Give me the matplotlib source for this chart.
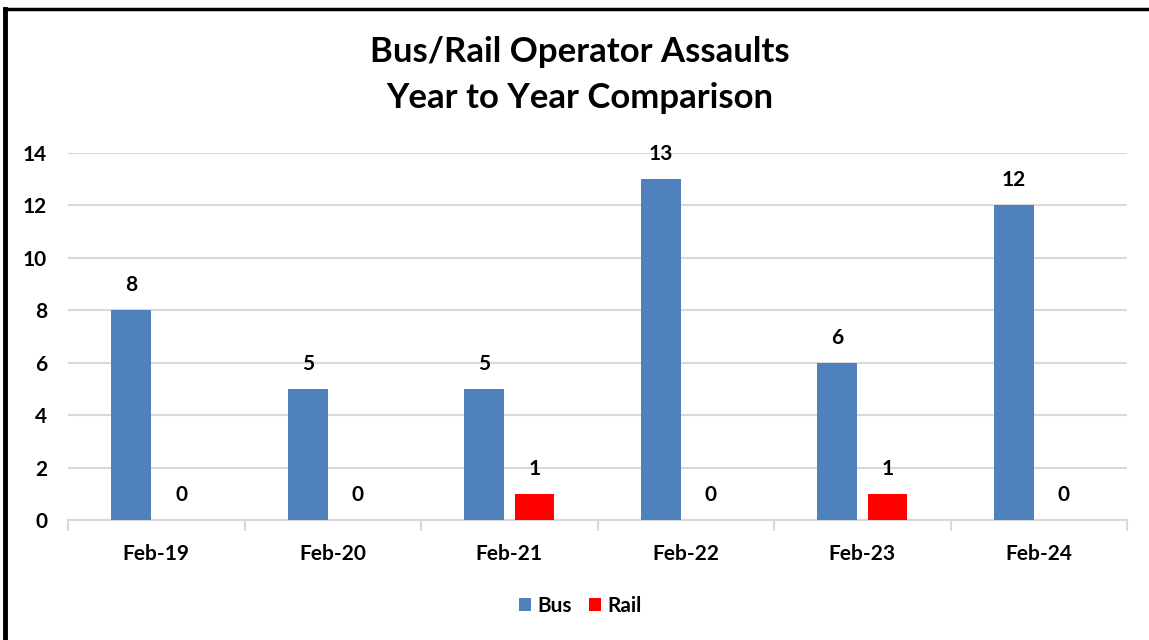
import matplotlib
matplotlib.use("Agg")
import matplotlib.pyplot as plt
import numpy as np
from matplotlib.lines import Line2D

# chart data
months = ["Feb-19", "Feb-20", "Feb-21", "Feb-22", "Feb-23", "Feb-24"]
bus = [8, 5, 5, 13, 6, 12]
rail = [0, 0, 1, 0, 1, 0]

plt.rcParams['font.family'] = ['Lato', 'DejaVu Sans']
plt.rcParams['font.weight'] = 'bold'

fig = plt.figure(figsize=(11.49, 6.40), dpi=100)
ax = fig.add_axes([0.0592, 0.1875, 0.9218, 0.5734])

x = np.arange(len(months))
w = 0.225
off = 0.142
b1 = ax.bar(x - off, bus, w, color="#4F81BD", label="Bus", zorder=3)
b2 = ax.bar(x + off, rail, w, color="#FF0000", label="Rail", zorder=3)

# value labels above each bar
for bars in (b1, b2):
    for r in bars:
        ax.annotate(str(int(r.get_height())), (r.get_x() + r.get_width() / 2, r.get_height()),
                    xytext=(0, 18), textcoords="offset points", ha="center", va="center",
                    fontsize=15, fontweight="bold")

ax.set_xlim(-0.5, len(months) - 0.5)
ax.set_ylim(0, 14)
ax.set_yticks(range(0, 15, 2))
ax.set_xticks(x)
ax.set_xticklabels(months)
ax.set_xticks(np.arange(-0.5, len(months), 1), minor=True)

ax.grid(axis="y", color="#D9D9D9", linewidth=1.5, zorder=0)
for s in ["top", "right", "left"]:
    ax.spines[s].set_visible(False)
ax.spines["bottom"].set_color("#D9D9D9")
ax.spines["bottom"].set_linewidth(1.5)
ax.tick_params(axis="y", length=0, labelsize=15, pad=15)
ax.tick_params(axis="x", which="major", length=0, labelsize=15, pad=17)
ax.tick_params(axis="x", which="minor", length=8, width=1.5, color="#D9D9D9")

fig.text(0.505, 0.919, "Bus/Rail Operator Assaults", ha="center", va="center",
         fontsize=25, fontweight="bold")
fig.text(0.505, 0.847, "Year to Year Comparison", ha="center", va="center",
         fontsize=25, fontweight="bold")

fig.legend(handles=[b1, b2], loc="center", bbox_to_anchor=(0.505, 0.053), ncol=2,
           frameon=False, fontsize=15, handlelength=0.6, handleheight=0.6,
           handletextpad=0.3, columnspacing=0.8)

# frame of the chart (only top and left edges show in the crop)
fig.add_artist(Line2D([0.0045, 0.0045], [0, 0.986], color="black", linewidth=3.5))
fig.add_artist(Line2D([0.0045, 1], [0.986, 0.986], color="black", linewidth=2.5))

fig.savefig("out.png", dpi=100)
